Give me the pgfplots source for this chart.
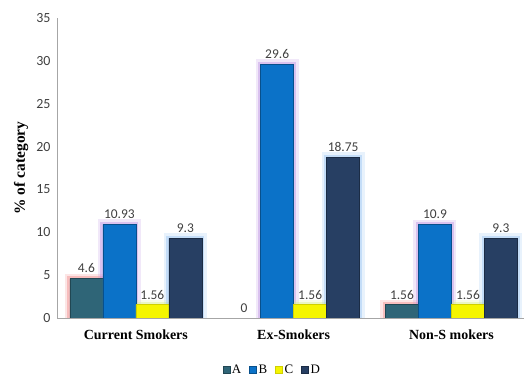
\documentclass[border=0pt]{standalone}
\usepackage{pgfplots}
\pgfplotsset{compat=1.18}
\usepackage{fontspec}
\setmainfont{Liberation Serif}
\newfontfamily\calibri{Carlito}

\definecolor{colA}{HTML}{2F6577}
\definecolor{colB}{HTML}{0B72C8}
\definecolor{colC}{HTML}{F5F500}
\definecolor{colD}{HTML}{273F63}
\definecolor{glowA}{HTML}{F08080}
\definecolor{glowB}{HTML}{B98BE0}
\definecolor{glowC}{HTML}{D6EE8A}
\definecolor{glowD}{HTML}{8DBDF2}
\definecolor{axgray}{HTML}{A6A6A6}
\definecolor{txt}{HTML}{404040}

\pgfplotsset{
  glow/.style={forget plot, fill opacity=0, draw=#1},
}

\begin{document}
\begin{tikzpicture}
\begin{axis}[
  at={(57bp,61bp)}, anchor=south west,
  scale only axis, width=467bp, height=300bp,
  xmin=-0.5, xmax=2.46, ymin=0, ymax=35,
  /pgf/number format/assume math mode=true,
  axis lines*=left,
  axis line style={axgray, line width=1pt},
  ytick={0,5,...,35},
  xtick={0,1,2},
  xticklabels={Current Smokers, Ex-Smokers, Non-S mokers},
  major tick length=0pt,
  yticklabel style={font=\calibri\fontsize{14}{14}\selectfont, text=txt, xshift=-3bp},
  xticklabel style={font=\bfseries\fontsize{14}{14}\selectfont, text=black, yshift=-8bp},
  ylabel={\% of category},
  ylabel style={font=\bfseries\fontsize{15.5}{15.5}\selectfont, at={(axis description cs:-0.077,0.5)}, anchor=center},
  ybar, bar width=33bp,
  nodes near coords,
  every node near coord/.append style={font=\calibri\fontsize{13.5}{13.5}\selectfont, text=txt, yshift=2bp},
  legend columns=4,
  legend style={draw=none, fill=none, at={(axis description cs:0.461,-0.173)}, anchor=center,
    font=\fontsize{13}{13}\selectfont, /tikz/every even column/.append style={column sep=6bp}},
  legend image code/.code={\draw[#1, line width=0.4pt] (0bp,-3.5bp) rectangle (7bp,3.5bp);},
]
% soft halos behind the bars
\addplot[glow=glowA, bar shift=-49.5bp, line width=10bp, draw opacity=0.2, nodes near coords=] coordinates {(0,4.6) (2,1.56)};
\addplot[glow=glowA, bar shift=-49.5bp, line width=5bp, draw opacity=0.4, nodes near coords=] coordinates {(0,4.6) (2,1.56)};
\addplot[glow=glowB, bar shift=-16.5bp, line width=10bp, draw opacity=0.2, nodes near coords=] coordinates {(0,10.93) (1,29.6) (2,10.9)};
\addplot[glow=glowB, bar shift=-16.5bp, line width=5bp, draw opacity=0.4, nodes near coords=] coordinates {(0,10.93) (1,29.6) (2,10.9)};
\addplot[glow=glowC, bar shift=16.5bp, line width=10bp, draw opacity=0.2, nodes near coords=] coordinates {(0,1.56) (1,1.56) (2,1.56)};
\addplot[glow=glowC, bar shift=16.5bp, line width=5bp, draw opacity=0.4, nodes near coords=] coordinates {(0,1.56) (1,1.56) (2,1.56)};
\addplot[glow=glowD, bar shift=49.5bp, line width=10bp, draw opacity=0.2, nodes near coords=] coordinates {(0,9.3) (1,18.75) (2,9.3)};
\addplot[glow=glowD, bar shift=49.5bp, line width=5bp, draw opacity=0.4, nodes near coords=] coordinates {(0,9.3) (1,18.75) (2,9.3)};
% the bars
\addplot[fill=colA, draw=colA!70!black, bar shift=-49.5bp] coordinates {(0,4.6) (1,0) (2,1.56)};
\addplot[fill=colB, draw=colB!70!black, bar shift=-16.5bp] coordinates {(0,10.93) (1,29.6) (2,10.9)};
\addplot[fill=colC, draw=colC!85!black, bar shift=16.5bp] coordinates {(0,1.56) (1,1.56) (2,1.56)};
\addplot[fill=colD, draw=colD!70!black, bar shift=49.5bp] coordinates {(0,9.3) (1,18.75) (2,9.3)};
\legend{A,B,C,D}
\end{axis}
\pgfresetboundingbox
\path (0,0) rectangle (524bp,379bp);
\end{tikzpicture}
\end{document}
